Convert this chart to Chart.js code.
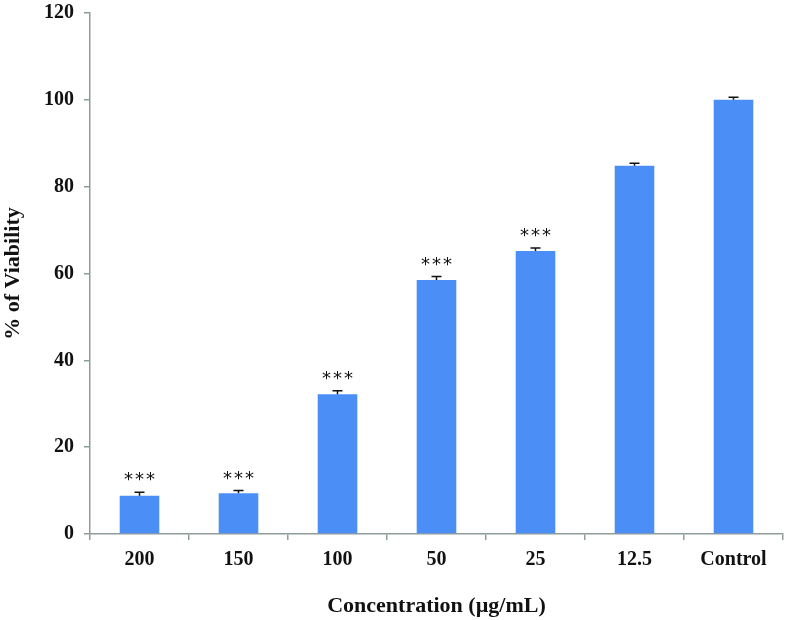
<!DOCTYPE html>
<html>
<head>
<meta charset="utf-8">
<script src="https://cdn.jsdelivr.net/npm/chart.js@4"></script>
<style>
html,body{margin:0;padding:0;background:#fff;}
#wrap{width:786px;height:620px;position:relative;}
</style>
</head>
<body>
<div id="wrap"><canvas id="c" width="786" height="620"></canvas></div>
<script>
const categories = ["200", "150", "100", "50", "25", "12.5", "Control"];
const viability = [8.8, 9.4, 32.2, 58.5, 65.2, 84.8, 100.0];
const errors = [0.8, 0.6, 0.8, 0.8, 0.7, 0.6, 0.6];
const significance = ["***", "***", "***", "***", "***", "", ""];
const yTicks = [0, 20, 40, 60, 80, 100, 120];

const AXIS = "#8f9c9c";
const BAR = "#4b8ff6";
const FONT = "'Liberation Serif', 'Times New Roman', serif";

const errorPlugin = {
  id: "errorBars",
  afterDatasetsDraw(chart) {
    const ctx = chart.ctx;
    const meta = chart.getDatasetMeta(0);
    const y = chart.scales.y;
    ctx.save();
    meta.data.forEach((bar, i) => {
      const x = bar.x;
      const top = y.getPixelForValue(viability[i] + errors[i]);
      const base = y.getPixelForValue(viability[i]);
      ctx.strokeStyle = "#111";
      ctx.lineWidth = 1.5;
      ctx.beginPath();
      ctx.moveTo(x, base);
      ctx.lineTo(x, top);
      ctx.moveTo(x - 5, top);
      ctx.lineTo(x + 5, top);
      ctx.stroke();
      if (significance[i]) {
        ctx.fillStyle = "#111";
        ctx.font = "18px 'DejaVu Sans', sans-serif";
        ctx.textAlign = "center";
        ctx.textBaseline = "alphabetic";
        const chars = significance[i].split("");
        const n = chars.length;
        chars.forEach((ch, k) => {
          ctx.fillText(ch, x + (k - (n - 1) / 2) * 11, top - 7);
        });
      }
    });
    ctx.restore();
  }
};

new Chart(document.getElementById("c"), {
  type: "bar",
  data: {
    labels: categories,
    datasets: [{
      data: viability,
      backgroundColor: BAR,
      borderWidth: 0,
      barPercentage: 0.4,
      categoryPercentage: 1.0
    }]
  },
  options: {
    responsive: false,
    animation: false,
    devicePixelRatio: 1,
    layout: { padding: { left: 0, right: 3, top: 13, bottom: 0 } },
    plugins: { legend: { display: false }, tooltip: { enabled: false } },
    scales: {
      x: {
        offset: true,
        grid: { offset: true, drawOnChartArea: false, drawTicks: true, tickLength: 6, color: AXIS, lineWidth: 1.5 },
        border: { color: AXIS, width: 1.5 },
        ticks: { color: "#111", font: { family: FONT, size: 20, weight: "bold" }, padding: 8, maxRotation: 0 },
        title: { display: true, text: "Concentration (µg/mL)", color: "#111", font: { family: FONT, size: 22, weight: "bold" }, padding: { top: 20, bottom: 0 } },
        afterFit(s) { s.height = 86; s.paddingLeft = 0; s.paddingRight = 0; }
      },
      y: {
        min: 0, max: 120,
        afterBuildTicks(s) { s.ticks = yTicks.map(v => ({ value: v })); },
        grid: { drawOnChartArea: false, drawTicks: true, tickLength: 6, color: AXIS, lineWidth: 1.5 },
        border: { color: AXIS, width: 1.5 },
        ticks: { color: "#111", font: { family: FONT, size: 20, weight: "bold" }, padding: 10 },
        title: { display: true, text: "% of Viability", color: "#111", font: { family: FONT, size: 22, weight: "bold" }, padding: { top: 0, bottom: 14 } },
        afterFit(s) { s.width = 90; s.paddingTop = 0; s.paddingBottom = 0; }
      }
    }
  },
  plugins: [errorPlugin]
});
</script>
</body>
</html>
